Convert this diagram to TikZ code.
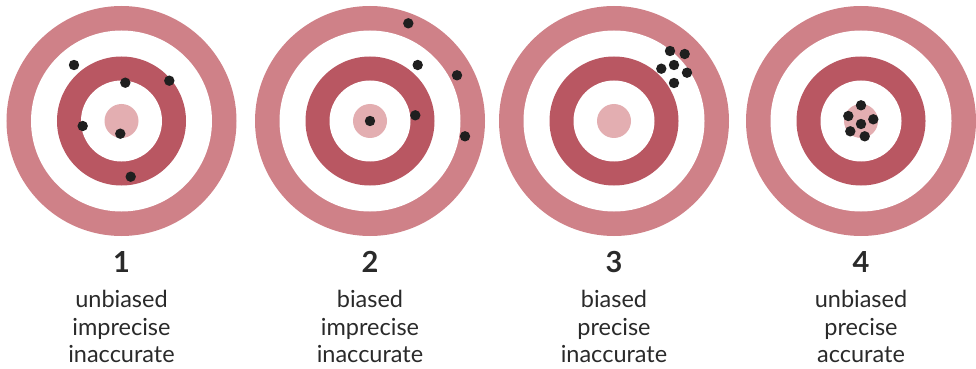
\documentclass[tikz,border=0pt]{standalone}
\usepackage{fontspec}
\setmainfont{Lato}
\usepackage{tikz}

\definecolor{ringouter}{HTML}{CF8188}
\definecolor{ringinner}{HTML}{B95762}
\definecolor{bullseye}{HTML}{E3AEB1}
\definecolor{shotcol}{HTML}{1F1F1F}
\definecolor{labelcol}{HTML}{2A2A2A}

\begin{document}
\begin{tikzpicture}[x=1pt, y=1pt,
    outer/.style={fill=ringouter},
    inner/.style={fill=ringinner},
    eye/.style={fill=bullseye},
    shot/.style={fill=shotcol},
    num/.style={anchor=base, text=labelcol, font=\fontsize{29}{31}\selectfont\bfseries},
    word/.style={anchor=base, text=labelcol, font=\fontsize{23.5}{26}\selectfont}]
    \useasboundingbox (-121.5, 121) rectangle (854.5, -248);

    % 1: unbiased, imprecise, inaccurate
    \begin{scope}[xshift=0pt]
        \fill[outer] (0, 0) circle (115);
        \fill[white] (0, 0) circle (90.5);
        \fill[inner] (0, 0) circle (64.5);
        \fill[white] (0, 0) circle (40.5);
        \fill[eye] (0, 0) circle (17);
        \foreach \p in {(-47.5, 56), (3.8, 38.3), (47.8, 40.3), (-38.8, -5), (-1.2, -12.7), (9.2, -55.7)}
            \fill[shot] \p circle (5.2);
        \node[num] (n1) at (0, -151) {1};
        \node[word] (a1) at (0, -186.5) {unbiased};
        \node[word] (b1) at (0, -214) {imprecise};
        \node[word] (c1) at (0, -241) {inaccurate};
    \end{scope}

    % 2: biased, imprecise, inaccurate
    \begin{scope}[xshift=248.5pt]
        \fill[outer] (0, 0) circle (115);
        \fill[white] (0, 0) circle (90.5);
        \fill[inner] (0, 0) circle (64.5);
        \fill[white] (0, 0) circle (40.5);
        \fill[eye] (0, 0) circle (17);
        \foreach \p in {(38.3, 97.7), (47.7, 56), (87, 45.7), (45.3, 5.7), (0, 0), (95, -15.3)}
            \fill[shot] \p circle (5.2);
        \node[num] (n2) at (0, -151) {2};
        \node[word] (a2) at (0, -186.5) {biased};
        \node[word] (b2) at (0, -214) {imprecise};
        \node[word] (c2) at (0, -241) {inaccurate};
    \end{scope}

    % 3: biased, precise, inaccurate
    \begin{scope}[xshift=492.5pt]
        \fill[outer] (0, 0) circle (115);
        \fill[white] (0, 0) circle (90.5);
        \fill[inner] (0, 0) circle (64.5);
        \fill[white] (0, 0) circle (40.5);
        \fill[eye] (0, 0) circle (17);
        \foreach \p in {(56, 70), (70.7, 67), (47.3, 52.3), (60, 56), (73, 48.3), (60, 38)}
            \fill[shot] \p circle (5.2);
        \node[num] (n3) at (0, -151) {3};
        \node[word] (a3) at (0, -186.5) {biased};
        \node[word] (b3) at (0, -214) {precise};
        \node[word] (c3) at (0, -241) {inaccurate};
    \end{scope}

    % 4: unbiased, precise, accurate
    \begin{scope}[xshift=739.5pt]
        \fill[outer] (0, 0) circle (115);
        \fill[white] (0, 0) circle (90.5);
        \fill[inner] (0, 0) circle (64.5);
        \fill[white] (0, 0) circle (40.5);
        \fill[eye] (0, 0) circle (17);
        \foreach \p in {(0, 15.7), (-12.7, 5), (12.3, 1.7), (0, -3), (-10.7, -10.3), (3.7, -15.3)}
            \fill[shot] \p circle (5.2);
        \node[num] (n4) at (0, -151) {4};
        \node[word] (a4) at (0, -186.5) {unbiased};
        \node[word] (b4) at (0, -214) {precise};
        \node[word] (c4) at (0, -241) {accurate};
    \end{scope}
\end{tikzpicture}
\end{document}
